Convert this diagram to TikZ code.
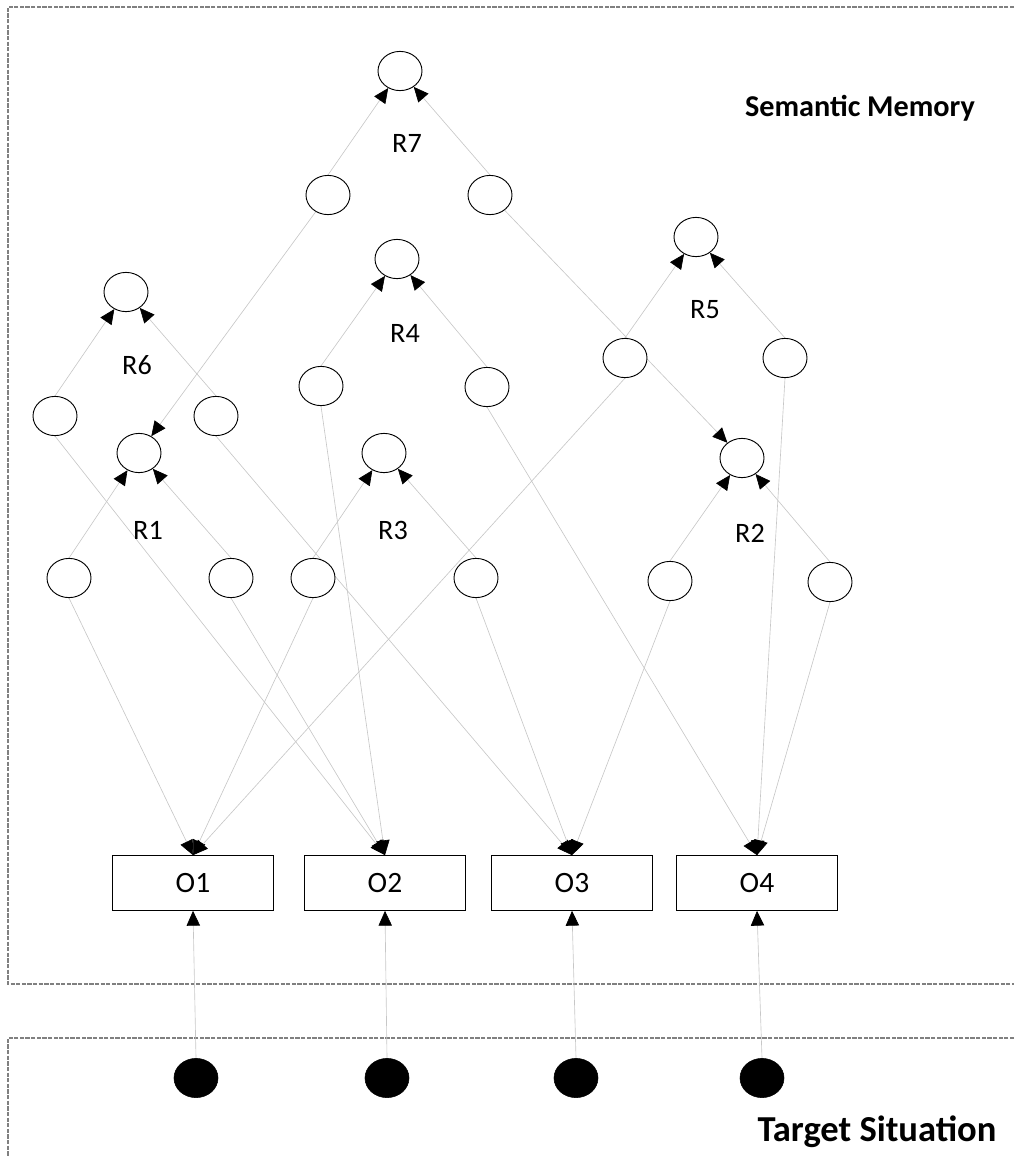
\documentclass[tikz,border=0pt]{standalone}
\usepackage{fontspec}
\setmainfont{Carlito}
\usetikzlibrary{arrows.meta,shapes.geometric,backgrounds}
\tikzset{
  ell/.style={ellipse, draw=black, fill=white, line width=0.65pt, minimum width=1.1cm, minimum height=0.98cm, inner sep=0pt},
  obox/.style={rectangle, draw=black, fill=white, line width=0.65pt, minimum width=4.02cm, minimum height=1.37cm, inner sep=0pt, font=\fontsize{21}{24}\selectfont},
  blackdot/.style={ellipse, draw=black, fill=black, minimum width=1.1cm, minimum height=0.98cm, inner sep=0pt},
  rlabel/.style={inner sep=0pt, font=\fontsize{20}{23}\selectfont},
  title/.style={inner sep=0pt, font=\bfseries\fontsize{21.5}{25}\selectfont},
  edge/.style={draw=black!22, line width=0.45pt, -{Triangle[length=10.5pt,width=9.5pt,color=black,fill=black]}},
  frame/.style={draw=black!50, line width=0.9pt, dash pattern=on 3pt off 1pt}
}
\begin{document}
\begin{tikzpicture}[x=0.025cm,y=-0.025cm]
\useasboundingbox (0,0) rectangle (1014,1157);
% R7
\node[ell] (r7) at (400,71) {};
\node[ell] (r7a) at (328,195) {};
\node[ell] (r7b) at (490,195) {};
\node[rlabel] (l7) at (407,143) {R7};
% R4
\node[ell] (r4) at (397,259) {};
\node[ell] (r4a) at (321,386) {};
\node[ell] (r4b) at (487,387) {};
\node[rlabel] (l4) at (405,333) {R4};
% R5
\node[ell] (r5) at (696,237) {};
\node[ell] (r5a) at (625,358) {};
\node[ell] (r5b) at (785,358) {};
\node[rlabel] (l5) at (705,310) {R5};
% R6
\node[ell] (r6) at (126,292) {};
\node[ell] (r6a) at (55,416) {};
\node[ell] (r6b) at (216,416) {};
\node[rlabel] (l6) at (137,365) {R6};
% R1
\node[ell] (r1) at (139,453) {};
\node[ell] (r1a) at (69,578) {};
\node[ell] (r1b) at (231,578) {};
\node[rlabel] (l1) at (148,530) {R1};
% R3
\node[ell] (r3) at (384,453) {};
\node[ell] (r3a) at (313,578) {};
\node[ell] (r3b) at (476,578) {};
\node[rlabel] (l3) at (393,530) {R3};
% R2
\node[ell] (r2) at (742,458) {};
\node[ell] (r2a) at (670,581) {};
\node[ell] (r2b) at (830,582) {};
\node[rlabel] (l2) at (750,533) {R2};
% objects
\node[obox] (o1) at (193,883) {O1};
\node[obox] (o2) at (385,883) {O2};
\node[obox] (o3) at (572,883) {O3};
\node[obox] (o4) at (757,883) {O4};
% target dots
\node[blackdot] (d1) at (196,1078) {};
\node[blackdot] (d2) at (387,1078) {};
\node[blackdot] (d3) at (576,1078) {};
\node[blackdot] (d4) at (762,1078) {};
% titles
\node[title] (sm) at (860,108) {Semantic Memory};
\node[title, font=\bfseries\fontsize{26}{30}\selectfont] (ts) at (877,1132) {Target Situation};
\begin{scope}[on background layer]
\draw[frame] (1014,7) -- (8,7) -- (8,984) -- (1014,984);
\draw[frame] (1014,1038) -- (8,1038) -- (8,1160);
% within-relation edges
\foreach \r in {r7,r4,r5,r6,r1,r3,r2} {
  \draw[edge] (\r a.north) -- (\r);
  \draw[edge] (\r b.north) -- (\r);
}
% higher-order
\draw[edge] (r7a) -- (r1);
\draw[edge] (r7b) -- (r2);
% to objects
\draw[edge] (r1a.south) -- (o1.north);
\draw[edge] (r3a.south) -- (o1.north);
\draw[edge] (r5a.south) -- (o1.north);
\draw[edge] (r1b.south) -- (o2.north);
\draw[edge] (r6a.south) -- (o2.north);
\draw[edge] (r4a.south) -- (o2.north);
\draw[edge] (r6b.south) -- (o3.north);
\draw[edge] (r3b.south) -- (o3.north);
\draw[edge] (r2a.south) -- (o3.north);
\draw[edge] (r4b.south) -- (o4.north);
\draw[edge] (r5b.south) -- (o4.north);
\draw[edge] (r2b.south) -- (o4.north);
% target to objects
\draw[edge] (d1.north) -- (o1.south);
\draw[edge] (d2.north) -- (o2.south);
\draw[edge] (d3.north) -- (o3.south);
\draw[edge] (d4.north) -- (o4.south);
\end{scope}
\end{tikzpicture}
\end{document}
